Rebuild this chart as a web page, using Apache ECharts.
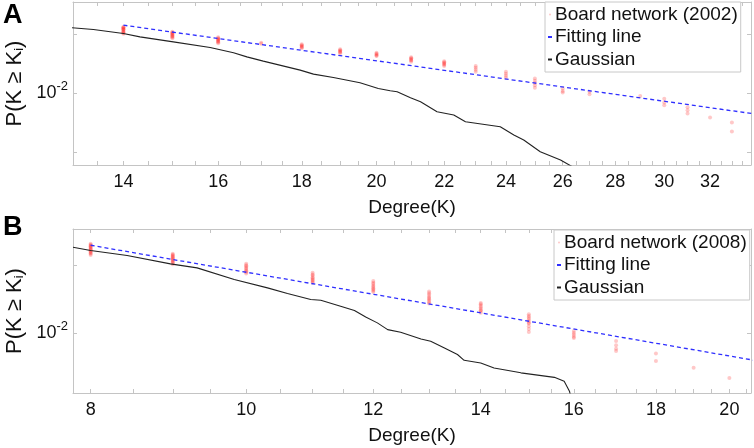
<!DOCTYPE html>
<html>
<head>
<meta charset="utf-8">
<script src="https://cdn.jsdelivr.net/npm/echarts@6/dist/echarts.min.js"></script>
<style>
    html, body { margin: 0; padding: 0; background: #fff; }
    #main { width: 754px; height: 448px; }
</style>
</head>
<body>
<div id="main"></div>
<script>
// panel A: board network 2002
var degA = [14, 15, 16, 17, 18, 19, 20, 21, 22, 23, 24, 25, 26, 27, 29, 30, 31, 32, 33];
var ccdfA = [
    [0.0218, 0.0217, 0.0216, 0.0214, 0.0213, 0.0212, 0.0210, 0.0208, 0.0206, 0.0205, 0.0203, 0.0201],
    [0.0206, 0.0204, 0.0203, 0.0201, 0.0200, 0.0198, 0.0196, 0.0195, 0.0193, 0.0191],
    [0.0193, 0.0191, 0.0190, 0.0188, 0.0187, 0.0185, 0.0184, 0.0182, 0.0180],
    [0.0181, 0.0179],
    [0.0178, 0.0176, 0.0175, 0.0173, 0.0172, 0.0170],
    [0.0168, 0.0166, 0.0165, 0.0163, 0.0162, 0.0160],
    [0.0161, 0.0159, 0.0158, 0.0156, 0.0155],
    [0.0153, 0.0151, 0.0150, 0.0148, 0.0147, 0.0145],
    [0.0146, 0.0144, 0.0143, 0.0141, 0.0140, 0.0138],
    [0.0138, 0.0135, 0.0132, 0.0129],
    [0.0129, 0.0126, 0.0123, 0.0120],
    [0.0119, 0.0116, 0.0113, 0.0110, 0.0107],
    [0.0106, 0.0103, 0.0101],
    [0.0102, 0.0099],
    [0.0097],
    [0.0094, 0.0090, 0.0087],
    [0.0085, 0.0082, 0.0079],
    [0.00755],
    [0.0071, 0.0064]
];
var fitA_k = [14, 34];
var fitA_p = [0.02225, 0.00788];
var gaussA_k = [13.0, 13.42, 14.0, 14.33, 15.02, 15.82, 16.35, 16.66, 17.05, 17.96, 18.30, 18.82, 19.54, 20.05,
    20.39, 20.59, 20.98, 21.28, 21.78, 22.30, 22.67, 23.81, 24.27, 24.61, 25.19, 25.92, 26.4];
var gaussA_p = [0.02160, 0.02116, 0.02019, 0.01940, 0.01830, 0.01714, 0.01609, 0.01535, 0.01460, 0.01314, 0.01254, 0.01206, 0.01132, 0.01060,
    0.01031, 0.01019, 0.00950, 0.00906, 0.00806, 0.00776, 0.00717, 0.00676, 0.00614, 0.00579, 0.00505, 0.00458, 0.0042];
var xLabelsA = [14, 16, 18, 20, 22, 24, 26, 28, 30, 32];

// panel B: board network 2008
var degB = [8, 9, 10, 11, 12, 13, 14, 15, 16, 17, 18, 19, 20];
var ccdfB = [
    [0.0249, 0.0247, 0.0245, 0.0243, 0.0241, 0.0239, 0.0237, 0.0235, 0.0233, 0.0231, 0.0229, 0.0227, 0.0225, 0.0222],
    [0.0225, 0.0223, 0.0221, 0.0219, 0.0217, 0.0215, 0.0213, 0.0211, 0.0209, 0.0207, 0.0205, 0.0202],
    [0.0203, 0.0200, 0.0198, 0.0195, 0.0193, 0.0190, 0.0188, 0.0186, 0.0184],
    [0.0185, 0.0182, 0.0180, 0.0177, 0.0175, 0.0173, 0.0171, 0.0169, 0.0167],
    [0.0170, 0.0167, 0.0165, 0.0162, 0.0160, 0.0158, 0.0156, 0.0154, 0.0152],
    [0.0153, 0.0150, 0.0148, 0.0145, 0.0143, 0.0141, 0.0139, 0.0137, 0.0135],
    [0.0136, 0.0134, 0.0132, 0.0130, 0.0128, 0.0126, 0.0125, 0.0123],
    [0.0121, 0.0119, 0.0117, 0.0115, 0.0113, 0.0111, 0.0110, 0.0107, 0.0104, 0.0101],
    [0.0102, 0.0100, 0.0098, 0.0096, 0.0095],
    [0.0092, 0.0088, 0.0085, 0.0083],
    [0.0081, 0.0075],
    [0.0070],
    [0.0063]
];
var fitB_k = [8, 21];
var fitB_p = [0.02455, 0.00743];
var gaussB_k = [7.8, 8.0, 8.43, 8.97, 9.32, 9.83, 10.31, 10.61, 10.97, 11.13, 11.45, 11.68, 11.87, 12.07,
    12.25, 12.48, 12.85, 13.03, 13.28, 13.54, 13.67, 14.00, 14.27, 14.83, 15.56, 15.78, 15.90, 15.93];
var gaussB_p = [0.02405, 0.02325, 0.02209, 0.02029, 0.01947, 0.01727, 0.01586, 0.01496, 0.01407, 0.01397, 0.01314, 0.01257, 0.01176, 0.01108,
    0.01034, 0.01006, 0.00940, 0.00918, 0.00858, 0.00801, 0.00755, 0.00735, 0.00698, 0.00664, 0.00634, 0.00609, 0.00550, 0.0052];
var xLabelsB = [8, 10, 12, 14, 16, 18, 20];

var yTicks = [0.005, 0.01, 0.02];
var yLabels = [0.01];

var font = 'Liberation Sans, Arial, Helvetica, sans-serif';
var frameColor = '#c4c4c4';

function pairs(xs, ys) {
    var out = [];
    for (var i = 0; i < xs.length; i++) out.push([xs[i], ys[i]]);
    return out;
}
function scatterData(deg, ccdf) {
    var out = [];
    for (var i = 0; i < deg.length; i++) {
        for (var j = 0; j < ccdf[i].length; j++) out.push([deg[i], ccdf[i][j]]);
    }
    return out;
}
// every half degree gets a tick
function halfTicks(lo, hi) {
    var t = [];
    for (var v = Math.ceil(lo * 2) / 2; v <= hi; v += 0.5) t.push(v);
    return t;
}

function xAxisPair(grid, min, max, labels) {
    var ticks = halfTicks(min, max);
    var base = {
        type: 'log',
        gridIndex: grid,
        min: min,
        max: max,
        axisLine: { show: true, lineStyle: { color: frameColor, width: 1 } },
        axisTick: { show: true, inside: true, length: 4, customValues: ticks, lineStyle: { color: frameColor } },
        splitLine: { show: false }
    };
    var bottom = echarts.util.merge({
        position: 'bottom',
        name: 'Degree(K)',
        nameLocation: 'middle',
        nameGap: 33,
        nameTextStyle: { fontSize: 19, color: '#111', fontFamily: font },
        axisLabel: { show: true, customValues: labels, margin: 8, fontSize: 18, color: '#111', fontFamily: font }
    }, base, true);
    var top = echarts.util.merge({ position: 'top', axisLabel: { show: false } }, echarts.util.clone(base), true);
    return [bottom, top];
}

function yAxisPair(grid, min, max) {
    var base = {
        type: 'log',
        gridIndex: grid,
        min: min,
        max: max,
        axisLine: { show: true, lineStyle: { color: frameColor, width: 1 } },
        axisTick: { show: true, inside: true, length: 4, customValues: yTicks, lineStyle: { color: frameColor } },
        splitLine: { show: false }
    };
    var left = echarts.util.merge({
        position: 'left',
        name: 'P(K ≥ K{s|i})',
        nameLocation: 'middle',
        nameRotate: 90,
        nameGap: 43,
        nameTextStyle: {
            fontSize: 22, color: '#111', fontFamily: font,
            rich: { s: { fontSize: 13, lineHeight: 13, verticalAlign: 'bottom', fontFamily: font, color: '#111' } }
        },
        axisLabel: {
            show: true,
            customValues: yLabels,
            margin: 5,
            color: '#111',
            fontFamily: font,
            formatter: function (v) {
                return '{b|10}{s|' + Math.round(Math.log(v) / Math.LN10) + '}';
            },
            rich: {
                b: { fontSize: 18, lineHeight: 26, fontFamily: font, color: '#111' },
                s: { fontSize: 13, lineHeight: 13, verticalAlign: 'top', fontFamily: font, color: '#111' }
            }
        }
    }, base, true);
    var right = echarts.util.merge({ position: 'right', axisLabel: { show: false } }, echarts.util.clone(base), true);
    return [left, right];
}

var xa = xAxisPair(0, 13.04, 33.9, xLabelsA);
var xb = xAxisPair(1, 7.8, 20.63, xLabelsB);
var ya = yAxisPair(0, 0.00432, 0.0292);
var yb = yAxisPair(1, 0.0054, 0.0290);

function legendFor(name, left, top) {
    return {
        orient: 'vertical',
        left: left,
        top: top,
        selectedMode: false,
        backgroundColor: '#fff',
        borderColor: '#c8c8c8',
        borderWidth: 1,
        padding: [3, 3, 3, 3],
        itemGap: 3.5,
        itemWidth: 4,
        itemHeight: 2,
        textStyle: { fontSize: 19, color: '#111', fontFamily: font, padding: [0, 0, 0, -2] },
        data: [
            { name: name, icon: 'circle' },
            { name: 'Fitting line', icon: 'rect' },
            { name: 'Gaussian', icon: 'rect' }
        ]
    };
}

var scatterStyle = { color: 'rgba(255, 30, 30, 0.3)' };
var fitStyle = { color: '#2f2fff', width: 1.3, type: [4, 3] };
var gaussStyle = { color: '#222', width: 1.1 };

var option = {
    animation: false,
    textStyle: { fontFamily: font },
    grid: [
        { left: 73, right: 3, top: 2, height: 163, outerBoundsMode: 'none', containLabel: false },
        { left: 73, right: 3, top: 229, height: 164, outerBoundsMode: 'none', containLabel: false }
    ],
    xAxis: [xa[0], xa[1], xb[0], xb[1]],
    yAxis: [ya[0], ya[1], yb[0], yb[1]],
    legend: [
        legendFor('Board network (2002)', 545, 2),
        legendFor('Board network (2008)', 554, 230)
    ],
    graphic: [
        { type: 'text', left: 3, top: 2, style: { text: 'A', fontSize: 27, fontWeight: 'bold', fill: '#000', fontFamily: font } },
        { type: 'text', left: 3, top: 214, style: { text: 'B', fontSize: 27, fontWeight: 'bold', fill: '#000', fontFamily: font } }
    ],
    series: [
        {
            name: 'Board network (2002)', type: 'scatter', xAxisIndex: 0, yAxisIndex: 0,
            symbolSize: 4, itemStyle: scatterStyle, data: scatterData(degA, ccdfA)
        },
        {
            name: 'Fitting line', type: 'line', xAxisIndex: 0, yAxisIndex: 0,
            showSymbol: false, symbol: 'none', lineStyle: fitStyle, itemStyle: { color: fitStyle.color },
            data: pairs(fitA_k, fitA_p)
        },
        {
            name: 'Gaussian', type: 'line', xAxisIndex: 0, yAxisIndex: 0,
            showSymbol: false, symbol: 'none', lineStyle: gaussStyle, itemStyle: { color: gaussStyle.color },
            data: pairs(gaussA_k, gaussA_p)
        },
        {
            name: 'Board network (2008)', type: 'scatter', xAxisIndex: 2, yAxisIndex: 2,
            symbolSize: 4, itemStyle: scatterStyle, data: scatterData(degB, ccdfB)
        },
        {
            name: 'Fitting line', type: 'line', xAxisIndex: 2, yAxisIndex: 2,
            showSymbol: false, symbol: 'none', lineStyle: fitStyle, itemStyle: { color: fitStyle.color },
            data: pairs(fitB_k, fitB_p)
        },
        {
            name: 'Gaussian', type: 'line', xAxisIndex: 2, yAxisIndex: 2,
            showSymbol: false, symbol: 'none', lineStyle: gaussStyle, itemStyle: { color: gaussStyle.color },
            data: pairs(gaussB_k, gaussB_p)
        }
    ]
};

var myChart = echarts.init(document.getElementById('main'));
myChart.setOption(option);
</script>
</body>
</html>
